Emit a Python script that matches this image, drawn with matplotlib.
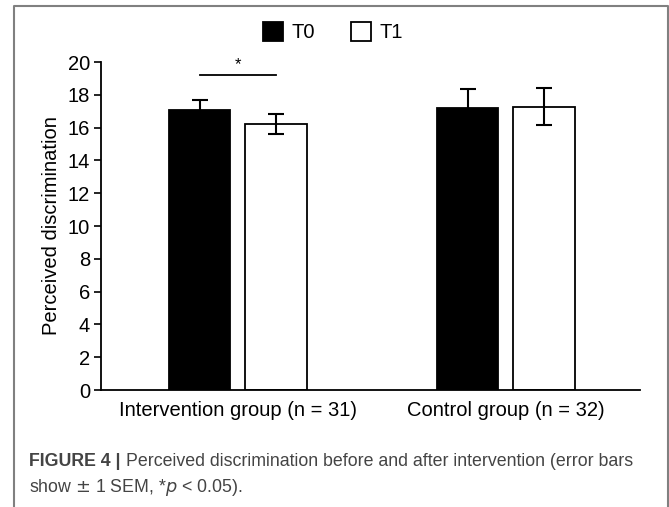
import numpy as np
import matplotlib.pyplot as plt
from matplotlib.lines import Line2D
from matplotlib.patches import Patch

plt.rcParams["font.family"] = ["Liberation Sans", "DejaVu Sans"]

# data
groups = ["Intervention group (n = 31)", "Control group (n = 32)"]
t0_mean = [17.05, 17.22]
t0_sem = [0.63, 1.16]
t1_mean = [16.22, 17.28]
t1_sem = [0.62, 1.15]

W, H = 669, 507
fig = plt.figure(figsize=(W / 100, H / 100), dpi=100)
ax = fig.add_axes([101 / W, 1 - 390 / H, (640 - 101) / W, (390 - 62) / H])

x = np.arange(len(groups))
width = 0.228
off = 0.142
ek = dict(ecolor="black", elinewidth=1.5, capsize=6, capthick=1.5)
ax.bar(x - off, t0_mean, width, yerr=t0_sem, color="black",
       edgecolor="black", linewidth=1.3, error_kw=ek, label="T0", zorder=2)
ax.bar(x + off, t1_mean, width, yerr=t1_sem, color="white",
       edgecolor="black", linewidth=1.3, error_kw=ek, label="T1", zorder=2)

# significance marker
ax.plot([x[0] - off, x[0] + off], [19.2, 19.2], color="black", lw=1.3,
        clip_on=False)
ax.text(x[0], 19.4, "*", ha="center", va="bottom", fontsize=12,
        clip_on=False)

ax.set_xlim(-0.511, 1.5)
ax.set_ylim(0, 20)
ax.set_yticks(range(0, 21, 2))
ax.set_xticks(x)
ax.set_xticklabels(groups, fontsize=14.5)
ax.tick_params(axis="y", labelsize=14.5, length=5, width=1.2, pad=3)
ax.tick_params(axis="x", length=0, pad=8)
for s in ["top", "right"]:
    ax.spines[s].set_visible(False)
for s in ["left", "bottom"]:
    ax.spines[s].set_linewidth(1.3)
ax.set_ylabel("Perceived discrimination", fontsize=14.5, labelpad=5)

handles = [Patch(facecolor="black", edgecolor="black", linewidth=1.3),
           Patch(facecolor="white", edgecolor="black", linewidth=1.3)]
fig.legend(handles, ["T0", "T1"], loc="center", bbox_to_anchor=(333 / W, 1 - 32 / H),
           ncol=2, frameon=False, fontsize=14.5, handlelength=1.0,
           handleheight=1.1, handletextpad=0.4, columnspacing=1.8)

# frame around the panel (no bottom edge)
fig.add_artist(Line2D([14 / W, 14 / W, 668 / W, 668 / W],
                      [0, 1 - 6 / H, 1 - 6 / H, 0],
                      transform=fig.transFigure, color="#808080", lw=1.5))

# caption: bold label, then the rest placed right after it
cap_kw = dict(fontsize=12.8, color="#444444", va="center")
lab = fig.text(29 / W, 1 - 462 / H, "FIGURE 4 |", fontweight="bold", **cap_kw)
fig.canvas.draw()
bb = lab.get_window_extent()
fig.text(bb.x1 / W + 5 / W, 1 - 462 / H,
         "Perceived discrimination before and after intervention (error bars",
         **cap_kw)
fig.text(29 / W, 1 - 487 / H, "show $\\pm$ 1 SEM, *$p$ < 0.05).", **cap_kw)

fig.savefig("out.png", dpi=100)
